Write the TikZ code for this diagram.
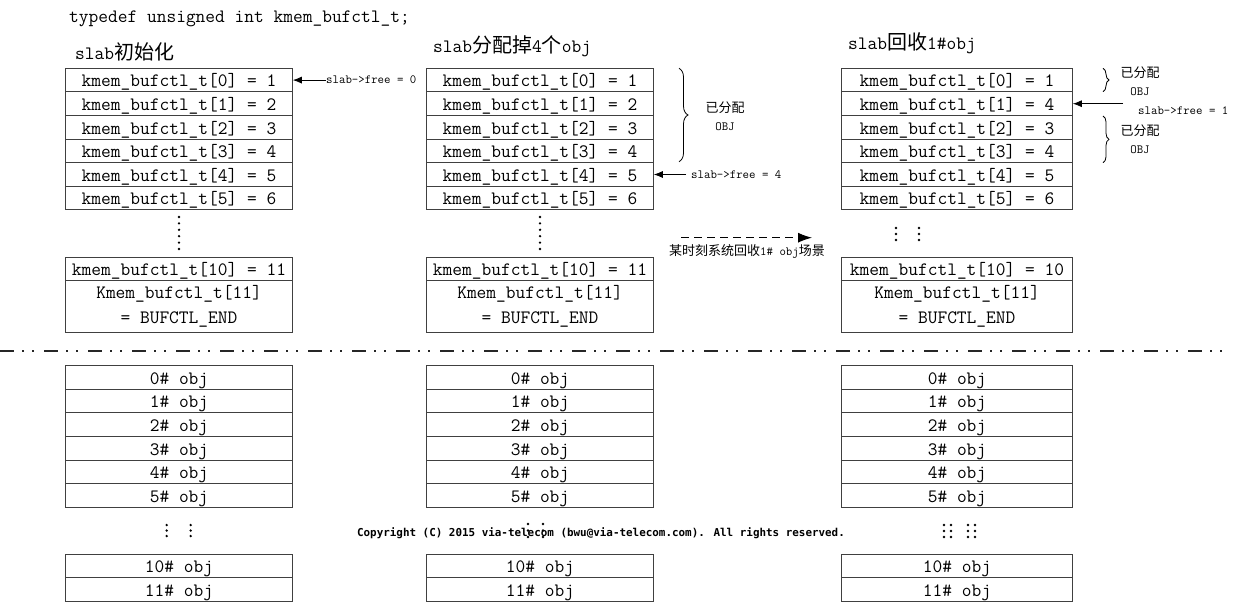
\documentclass[tikz,border=0pt]{standalone}
\usepackage{fontspec}
\newfontfamily\cjk{Noto Sans CJK SC}
\newfontfamily\copyfont{DejaVu Sans Mono}
\usetikzlibrary{arrows.meta,decorations.pathreplacing}

\begin{document}
\begin{tikzpicture}[x=1pt,y=-1pt,
   cell/.style={draw=black!75,line width=1pt,inner sep=0pt,minimum height=23.6pt,
      text height=15pt,text depth=1.5pt,font=\fontsize{18.9}{25}\selectfont\ttfamily},
   endcell/.style={draw=black!75,line width=1pt,inner sep=0pt,minimum height=51.6pt,
      align=center,font=\fontsize{18.9}{25}\selectfont\ttfamily},
   big/.style={inner sep=0pt,font=\fontsize{18.9}{22}\selectfont\ttfamily},
   note/.style={inner sep=0pt,align=center,font=\fontsize{12.5}{18}\selectfont\ttfamily},
   ptr/.style={-{Latex[length=9pt,width=7pt]},line width=0.8pt},
   brace/.style={decorate,decoration={brace,amplitude=#1},line width=0.8pt}]
   \useasboundingbox (0,0) rectangle (1238,609);
   \def\h{23.6}
   \def\zh#1{{\cjk\fontsize{13}{18}\selectfont #1}}

   % headings
   \node[big,anchor=base west] (typedef) at (69,23) {typedef unsigned int kmem\_bufctl\_t;};
   \node[big,anchor=base west] (titleA) at (75,60) {slab{\cjk\fontsize{20}{22}\selectfont 初始化}};
   \node[big,anchor=base west] (titleB) at (433,53) {slab{\cjk\fontsize{20}{22}\selectfont 分配掉}4{\cjk\fontsize{20}{22}\selectfont 个}obj};
   \node[big,anchor=base west] (titleC) at (848,50) {slab{\cjk\fontsize{20}{22}\selectfont 回收}1\#obj};

   % kmem_bufctl_t arrays
   \foreach \i/\v in {0/1,1/2,2/3,3/4,4/5,5/6} {
     \node[cell,minimum width=226.6pt] (A\i) at (179,{68.3+\h*\i+\h/2}) {kmem\_bufctl\_t[\i] = \v};
     \node[cell,minimum width=226.6pt] (B\i) at (540,{68.3+\h*\i+\h/2}) {kmem\_bufctl\_t[\i] = \v};
   }
   \foreach \i/\v in {0/1,1/4,2/3,3/4,4/5,5/6}
     \node[cell,minimum width=230.6pt] (C\i) at (957,{68.3+\h*\i+\h/2}) {kmem\_bufctl\_t[\i] = \v};
   \node[cell,minimum width=226.6pt] (A10) at (179,269) {kmem\_bufctl\_t[10] = 11};
   \node[cell,minimum width=226.6pt] (B10) at (540,269) {kmem\_bufctl\_t[10] = 11};
   \node[cell,minimum width=230.6pt] (C10) at (957,269) {kmem\_bufctl\_t[10] = 10};
   \node[endcell,minimum width=226.6pt] (A11) at (179,306.5) {Kmem\_bufctl\_t[11]\\= BUFCTL\_END};
   \node[endcell,minimum width=226.6pt] (B11) at (540,306.5) {Kmem\_bufctl\_t[11]\\= BUFCTL\_END};
   \node[endcell,minimum width=230.6pt] (C11) at (957,306.5) {Kmem\_bufctl\_t[11]\\= BUFCTL\_END};

   % objects
   \foreach \c/\cx/\w in {a/179/226.6pt,b/540/226.6pt,c/957/230.6pt} {
     \foreach \i in {0,...,5}
       \node[cell,minimum width=\w] (\c\i) at (\cx,{365.7+\h*\i+\h/2}) {\i\# obj};
     \node[cell,minimum width=\w] (\c10) at (\cx,566) {10\# obj};
     \node[cell,minimum width=\w] (\c11) at (\cx,589.6) {11\# obj};
   }

   % dots
   \foreach \k in {0,...,5} {
     \fill (179,{217+6.4*\k}) circle (1.3pt);
     \fill (540,{217+6.4*\k}) circle (1.3pt);
   }
   \foreach \x in {896,919} \foreach \y in {228,234,240} \fill (\x,\y) circle (1.3pt);
   \foreach \x in {166.7,190.7} \foreach \y in {525,530.5,536} \fill (\x,\y) circle (1.3pt);
   \foreach \x in {528,543} \foreach \y in {524,530.5,537} \fill (\x,\y) circle (1.3pt);
   \foreach \x in {944,951,968,975} \foreach \y in {525,531,537} \fill (\x,\y) circle (1.3pt);

   % separator
   \draw[line width=2pt,black!85,dash pattern=on 14pt off 8pt on 2pt off 8pt on 2pt off 10pt] (0,351) -- (1226,351);

   % slab->free pointers
   \node[note,anchor=west] (freeA) at (326,80.1) {slab->free = 0};
   \draw[ptr] (freeA.west) -- (freeA.west -| A0.east);
   \node[note,anchor=west] (freeB) at (691,174.5) {slab->free = 4};
   \draw[ptr] ([xshift=-5pt]freeB.west) -- (freeB.west -| B4.east);
   \coordinate (freeCend) at (1123,103.7);
   \node[note,anchor=base west] (freeC) at (1138,115) {slab->free = 1};
   \draw[ptr] (freeCend) -- (freeCend -| C1.east);

   % allocated objects
   \draw[brace=9pt] (679,68.3) -- (679,161.7);
   \node[note] (allocB) at (725,116) {\zh{已分配}\\OBJ};
   \draw[brace=6pt] (1103,68.3) -- (1103,91.7);
   \node[note] (allocC1) at (1140,81.5) {\zh{已分配}\\OBJ};
   \draw[brace=6pt] (1103,116) -- (1103,162.7);
   \node[note] (allocC2) at (1140,139) {\zh{已分配}\\OBJ};

   % step
   \coordinate (goS) at (681,237.7);
   \coordinate (goE) at (812,237.7);
   \draw[line width=1pt,dash pattern=on 8pt off 5pt,-{Latex[length=14pt,width=10pt]}] (goS) -- (goE);
   \node[note] (goLabel) at (747,251) {\zh{某时刻系统回收}1\# obj\zh{场景}};

   \node[inner sep=0pt,anchor=base,font=\copyfont\bfseries\fontsize{10.9}{12}\selectfont] (copy) at (601,536)
     {Copyright (C) 2015 via-telecom (bwu@via-telecom.com). All rights reserved.};
\end{tikzpicture}
\end{document}
